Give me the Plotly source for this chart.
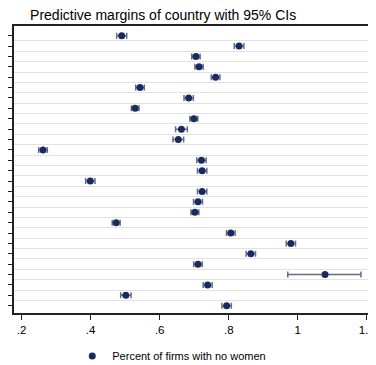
import plotly.graph_objects as go

rows = list(range(1, 28))
margins = [0.490, 0.830, 0.705, 0.714, 0.762, 0.543, 0.684, 0.529, 0.699, 0.663,
           0.654, 0.262, 0.721, 0.723, 0.399, 0.723, 0.711, 0.702, 0.474, 0.806,
           0.980, 0.864, 0.711, 1.079, 0.739, 0.502, 0.794]
ci_plus = [0.0145, 0.014, 0.012, 0.012, 0.0125, 0.0125, 0.0135, 0.011, 0.0115, 0.017,
           0.0155, 0.0125, 0.0135, 0.0135, 0.0135, 0.0135, 0.013, 0.0115, 0.0115, 0.0125,
           0.0135, 0.0135, 0.0125, 0.104, 0.013, 0.015, 0.0135]
ci_minus = [0.0145, 0.014, 0.012, 0.012, 0.0125, 0.0125, 0.0135, 0.011, 0.0115, 0.017,
            0.0155, 0.0125, 0.0135, 0.0135, 0.0135, 0.0135, 0.013, 0.0115, 0.0115, 0.0125,
            0.0135, 0.0135, 0.0125, 0.108, 0.013, 0.015, 0.0135]
x_ticks = [0.2, 0.4, 0.6, 0.8, 1.0, 1.2]
x_ticktext = [".2", ".4", ".6", ".8", "1", "1.2"]

navy = "#1a2a5c"
font = "Liberation Sans, Arial, sans-serif"

fig = go.Figure()
fig.add_trace(go.Scatter(
    x=margins, y=rows, mode="markers",
    name="Percent of firms with no women",
    marker=dict(color=navy, size=7),
    error_x=dict(type="data", symmetric=False, array=ci_plus, arrayminus=ci_minus,
                 color="#5f6d8c", thickness=1.5, width=3),
))

# page has an 8px body margin, so the figure is sized 8px smaller each way
fig.update_layout(
    width=368, height=357,
    margin=dict(l=6, r=4, t=18, b=52, autoexpand=False),
    paper_bgcolor="white", plot_bgcolor="white",
    font=dict(family=font, color="black"),
    title=dict(text="Predictive margins of country with 95% CIs",
               xref="container", yref="container",
               x=0.06, xanchor="left", y=0.995, yanchor="top",
               font=dict(size=14, color="black", family=font)),
    showlegend=True,
    legend=dict(orientation="h", xref="container", yref="container",
                x=0.445, xanchor="center", y=0.025, yanchor="middle",
                font=dict(size=11, family=font), itemsizing="trace"),
    xaxis=dict(range=[0.178, 1.215], tickvals=x_ticks, ticktext=x_ticktext,
               automargin=False, ticklabeloverflow="allow",
               ticks="outside", ticklen=5, tickwidth=1, tickcolor="#222",
               showline=True, linecolor="#222", linewidth=1.5, mirror=True,
               showgrid=False, zeroline=False, tickfont=dict(size=11.5, family=font)),
    yaxis=dict(range=[27.7, 0.07], tickvals=rows, showticklabels=False,
               automargin=False,
               ticks="outside", ticklen=5, tickwidth=1, tickcolor="#222",
               showline=True, linecolor="#222", linewidth=1.5,
               showgrid=False, zeroline=False,
               minor=dict(tickvals=[r + 0.5 for r in rows[:-1]], showgrid=True,
                          gridcolor="#e2e2e2", gridwidth=1, ticks="")),
    shapes=[dict(type="line", xref="paper", yref="paper", x0=1, x1=1, y0=0, y1=1,
                 line=dict(color="#8a8a8a", width=2.5))],
)

fig.write_html("out.html")
